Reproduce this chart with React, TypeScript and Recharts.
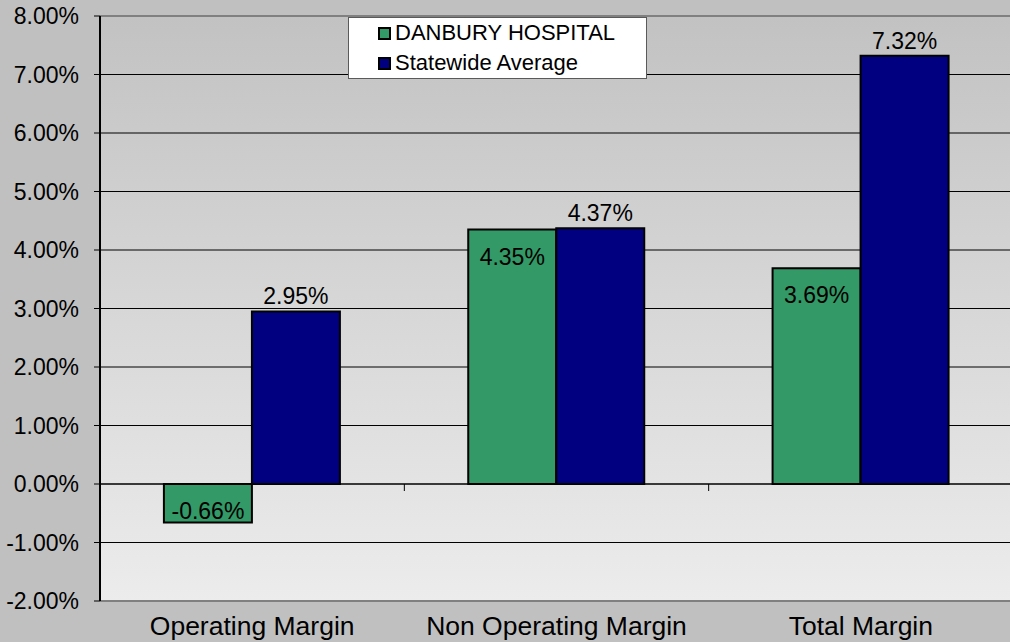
import {
  Bar,
  BarChart,
  CartesianGrid,
  LabelList,
  Legend,
  ReferenceLine,
  XAxis,
  YAxis,
} from 'recharts';

const categories = ['Operating Margin', 'Non Operating Margin', 'Total Margin'];
const danburyValues = [-0.66, 4.35, 3.69];
const statewideValues = [2.95, 4.37, 7.32];
const yTicks = [-2, -1, 0, 1, 2, 3, 4, 5, 6, 7, 8];

const FONT = 'Arial, "Liberation Sans", sans-serif';
const GREEN = '#339966';
const NAVY = '#000080';

const chartData = categories.map((name, i) => ({
  name,
  danbury: danburyValues[i],
  statewide: statewideValues[i],
}));

const pct = (v: number) => `${Number(v).toFixed(2)}%`;

// excel style "inside end" label, works for negative bars too
function InsideEndLabel(props: any) {
  const { x, y, width, height, value } = props;
  const top = Math.min(Number(y), Number(y) + Number(height));
  return (
    <text
      x={Number(x) + Number(width) / 2}
      y={top + 35}
      textAnchor="middle"
      fontSize={23}
      fontFamily={FONT}
      fill="#000"
    >
      {pct(value)}
    </text>
  );
}

// zero line with small tick marks between the categories
function ZeroLine(props: any) {
  const { x1, x2, y1 } = props;
  const marks = Array.from({ length: categories.length - 1 }, (_, i) =>
    x1 + ((x2 - x1) * (i + 1)) / categories.length,
  );
  return (
    <g>
      <line x1={x1} x2={x2} y1={y1} y2={y1} stroke="#000" strokeWidth={1} />
      {marks.map((mx) => (
        <line key={mx} x1={mx} x2={mx} y1={y1} y2={y1 + 7} stroke="#000" strokeWidth={1} />
      ))}
    </g>
  );
}

function LegendBox(props: any) {
  const items = props.payload ?? [];
  return (
    <div
      style={{
        background: '#fff',
        border: '1px solid #5a5a5a',
        width: 297,
        height: 60,
      }}
    >
      {items.map((item: any) => (
        <div
          key={item.value}
          style={{ display: 'flex', alignItems: 'center', height: 30, paddingLeft: 29 }}
        >
          <span
            style={{
              display: 'inline-block',
              width: 9,
              height: 9,
              border: '2px solid #000',
              background: item.color,
              marginRight: 4,
            }}
          />
          <span style={{ fontSize: 22, fontFamily: FONT, color: '#000', lineHeight: '30px' }}>
            {item.value}
          </span>
        </div>
      ))}
    </div>
  );
}

export default function App() {
  return (
    <div
      style={{
        position: 'absolute',
        left: 0,
        top: 0,
        width: 1010,
        height: 642,
        overflow: 'hidden',
        background: '#c0c0c0',
        fontFamily: FONT,
      }}
    >
      <BarChart
        width={1013}
        height={642}
        data={chartData}
        margin={{ top: 16, right: 0, bottom: 0, left: 0 }}
        barCategoryGap="21%"
        barGap={0}
      >
        <defs>
          <linearGradient id="plotBg" x1="0" y1="0" x2="0" y2="1">
            <stop offset="0%" stopColor="#c2c2c2" />
            <stop offset="100%" stopColor="#ececec" />
          </linearGradient>
        </defs>
        <CartesianGrid vertical={false} stroke="#000" fill="url(#plotBg)" fillOpacity={1} />
        <XAxis
          dataKey="name"
          axisLine={false}
          tickLine={false}
          tickSize={0}
          tickMargin={15}
          height={41}
          interval={0}
          tick={{ fill: '#000', fontSize: 26.5, fontFamily: FONT }}
        />
        <YAxis
          type="number"
          domain={[-2, 8]}
          ticks={yTicks}
          interval={0}
          tickFormatter={pct}
          width={100}
          axisLine={{ stroke: '#000', strokeWidth: 2 }}
          tickLine={{ stroke: '#000' }}
          tickSize={6}
          tickMargin={15}
          tick={{ fill: '#000', fontSize: 23, fontFamily: FONT }}
        />
        <ReferenceLine y={8} stroke="#808080" strokeWidth={2} />
        <ReferenceLine y={-2} stroke="#808080" strokeWidth={2} />
        <ReferenceLine y={0} stroke="#000" shape={ZeroLine} />
        <Legend
          layout="vertical"
          align="center"
          verticalAlign="middle"
          content={LegendBox}
          wrapperStyle={{ top: 17, left: 348, width: 299, height: 62 }}
        />
        <Bar
          dataKey="danbury"
          name="DANBURY HOSPITAL"
          fill={GREEN}
          stroke="#000"
          strokeWidth={2}
          isAnimationActive={false}
        >
          <LabelList dataKey="danbury" content={InsideEndLabel} />
        </Bar>
        <Bar
          dataKey="statewide"
          name="Statewide Average"
          fill={NAVY}
          stroke="#000"
          strokeWidth={2}
          isAnimationActive={false}
        >
          <LabelList
            dataKey="statewide"
            position="top"
            offset={7}
            formatter={pct}
            fill="#000"
            fontSize={23}
            fontFamily={FONT}
          />
        </Bar>
      </BarChart>
    </div>
  );
}
